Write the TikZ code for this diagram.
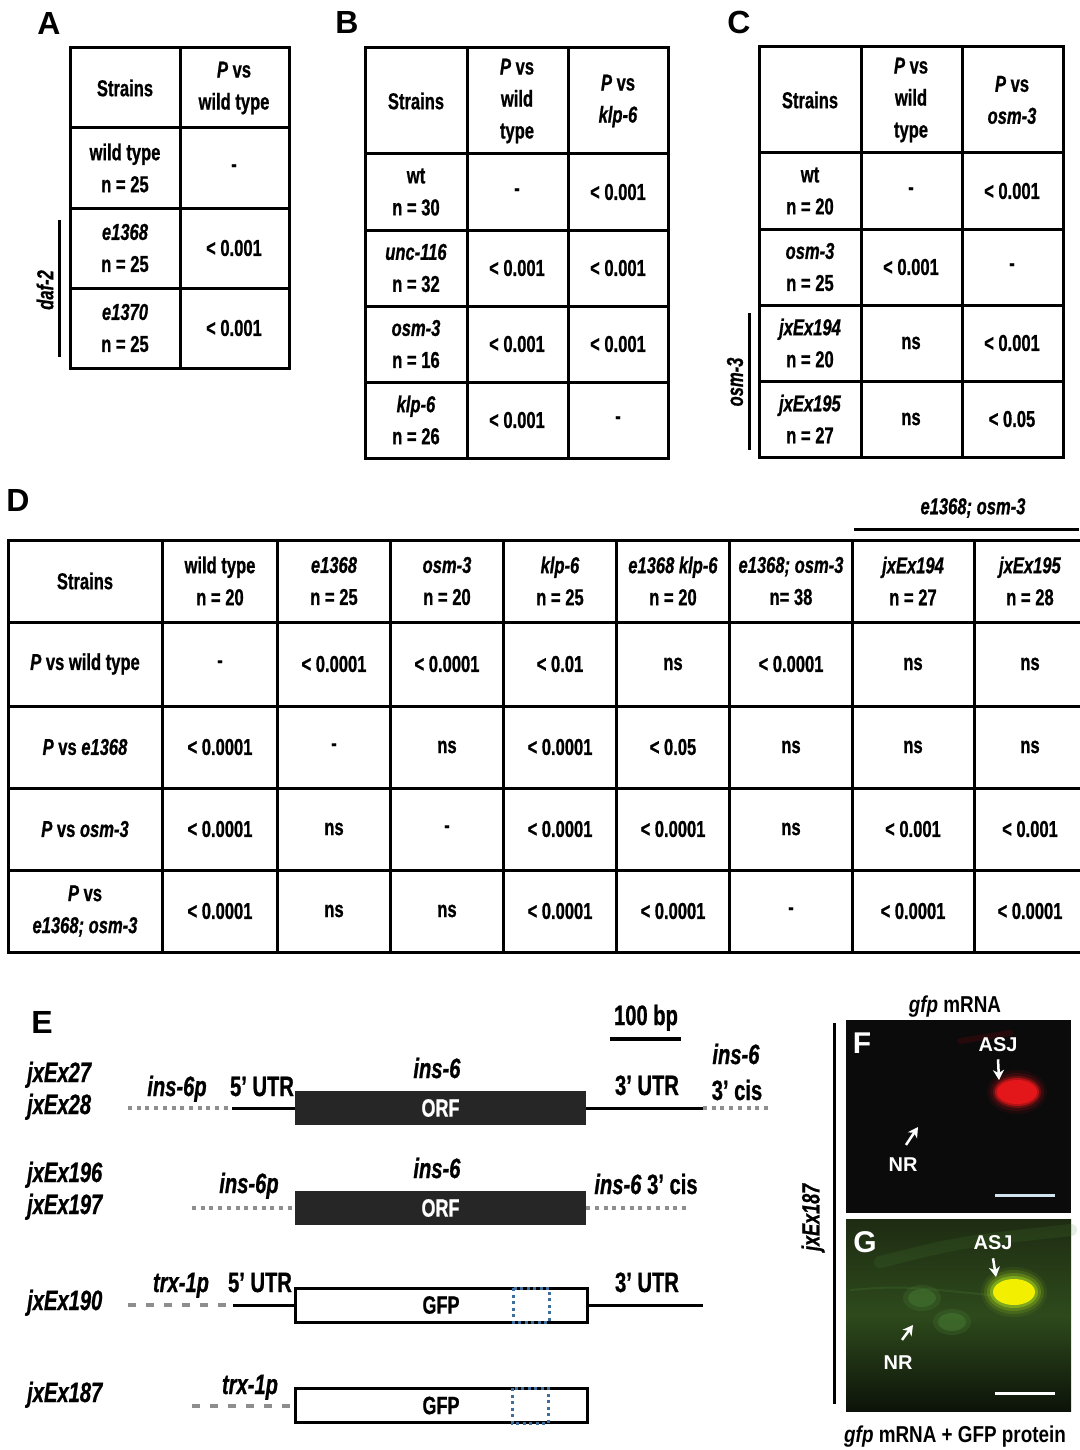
\documentclass[tikz,border=0pt]{standalone}
\usepackage{fontspec}
\setmainfont{Liberation Sans}[FakeStretch=0.72, FakeBold=0.8]
\newfontfamily\panelfont{Liberation Sans}
\newfontfamily\narrowfont{Liberation Sans}[FakeStretch=0.82]
\usetikzlibrary{arrows.meta,positioning}

\definecolor{orfgray}{HTML}{262626}
\definecolor{linegray}{HTML}{8E8E8E}
\definecolor{boxblue}{HTML}{3D6E9E}
\definecolor{fbg}{HTML}{0B0B0B}
\definecolor{asjred}{HTML}{E3161A}
\definecolor{gtop}{HTML}{1E2C12}
\definecolor{gmid}{HTML}{2E4A1C}
\definecolor{gbot}{HTML}{0C1309}
\definecolor{gfpyellow}{HTML}{F2F000}
\definecolor{halo}{HTML}{A8D81E}
\definecolor{nrgreen}{HTML}{4E8A3A}
\definecolor{barblue}{HTML}{D2E4EE}

\newcommand{\tabfont}{\fontsize{23}{32}\selectfont\bfseries}
\newcommand{\genefont}{\fontsize{28}{32}\selectfont\bfseries}
\newcommand{\boxfont}{\fontsize{25}{30}\selectfont\bfseries}
\newcommand{\tabrow}[3]{
	\foreach \xx/\txt [count=\k] in {#3}
		\node[cell] (#1\k) at (\xx,#2) {\txt};
	}

\begin{document}
\begin{tikzpicture}[x=1pt, y=-1pt,
	cell/.style={font=\tabfont, align=center, inner sep=0pt},
	tableline/.style={line width=3pt, line cap=rect},
	panel/.style={font=\panelfont\fontsize{32}{32}\selectfont\bfseries, inner sep=0pt},
	gene/.style={font=\genefont, inner sep=0pt, anchor=base},
	promoter/.style={line width=4pt, linegray, dash pattern=on 4pt off 4.7pt},
	trxline/.style={line width=4pt, linegray, dash pattern=on 8pt off 10pt},
	utr/.style={line width=3pt},
	orfbox/.style={fill=orfgray, text=white, font=\boxfont, minimum width=291pt, minimum height=34pt, inner sep=0pt},
	gfpbox/.style={draw, line width=3pt, font=\boxfont, minimum width=292pt, minimum height=34pt, inner sep=0pt},
	bluedot/.style={boxblue, line width=3pt, dash pattern=on 3pt off 3.5pt},
	title/.style={font=\narrowfont\fontsize{23}{28}\selectfont\bfseries, inner sep=0pt, anchor=base},
	micro/.style={font=\panelfont\fontsize{20}{24}\selectfont\bfseries, text=white, inner sep=0pt},
	microletter/.style={font=\panelfont\fontsize{30}{30}\selectfont\bfseries, text=white, inner sep=0pt},
	pointer/.style={white, line width=2.5pt, -{Stealth[length=10pt,width=11pt,inset=3pt]}},
]
	\fill[white] (0,0) rectangle (1079,1450);
	\useasboundingbox (0,0) rectangle (1079,1450);

	% panel letters
	\node[panel] (labA) at (49,23) {A};
	\node[panel] (labB) at (347,22) {B};
	\node[panel] (labC) at (739,22) {C};
	\node[panel] (labD) at (18,500) {D};
	\node[panel] (labE) at (42,1022) {E};

	% table A
	\draw[tableline] (70,48) rectangle (289,368);
	\draw[tableline] (180,48) -- (180,368);
	\foreach \yy in {128,208,288} \draw[tableline] (70,\yy) -- (289,\yy);
	\tabrow{a0}{88}{125/Strains, 234/{\textit{P} vs\\wild type}}
	\tabrow{a1}{168}{125/{wild type\\n = 25}, 234/-}
	\tabrow{a2}{248}{125/{\textit{e1368}\\n = 25}, 234/{< 0.001}}
	\tabrow{a3}{328}{125/{\textit{e1370}\\n = 25}, 234/{< 0.001}}
	\draw[utr] (59,220) -- (59,357);
	\node[cell, rotate=90] (daf) at (45,290) {\textit{daf-2}};

	% table B
	\draw[tableline] (365,48) rectangle (668,458);
	\foreach \xx in {467,568} \draw[tableline] (\xx,48) -- (\xx,458);
	\foreach \yy in {154,230,306,382} \draw[tableline] (365,\yy) -- (668,\yy);
	\tabrow{b0}{101}{416/Strains, 517/{\textit{P} vs\\wild\\type}, 618/{\textit{P} vs\\\textit{klp-6}}}
	\tabrow{b1}{192}{416/{wt\\n = 30}, 517/-, 618/{< 0.001}}
	\tabrow{b2}{268}{416/{\textit{unc-116}\\n = 32}, 517/{< 0.001}, 618/{< 0.001}}
	\tabrow{b3}{344}{416/{\textit{osm-3}\\n = 16}, 517/{< 0.001}, 618/{< 0.001}}
	\tabrow{b4}{420}{416/{\textit{klp-6}\\n = 26}, 517/{< 0.001}, 618/-}

	% table C
	\draw[tableline] (759,47) rectangle (1063,457);
	\foreach \xx in {861,962} \draw[tableline] (\xx,47) -- (\xx,457);
	\foreach \yy in {153,229,305,381} \draw[tableline] (759,\yy) -- (1063,\yy);
	\tabrow{c0}{100}{810/Strains, 911/{\textit{P} vs\\wild\\type}, 1012/{\textit{P} vs\\\textit{osm-3}}}
	\tabrow{c1}{191}{810/{wt\\n = 20}, 911/-, 1012/{< 0.001}}
	\tabrow{c2}{267}{810/{\textit{osm-3}\\n = 25}, 911/{< 0.001}, 1012/-}
	\tabrow{c3}{343}{810/{\textit{jxEx194}\\n = 20}, 911/ns, 1012/{< 0.001}}
	\tabrow{c4}{419}{810/{\textit{jxEx195}\\n = 27}, 911/ns, 1012/{< 0.05}}
	\draw[utr] (749,313) -- (749,450);
	\node[cell, rotate=90] (osm) at (735,382) {\textit{osm-3}};

	% table D
	\foreach \yy in {540,622,706,788,870,952} \draw[tableline] (8,\yy) -- (1079,\yy);
	\foreach \xx in {8,162,277,390,503,616,729,852,974} \draw[tableline] (\xx,540) -- (\xx,952);
	\tabrow{d0}{581}{85/Strains, 220/{wild type\\n = 20}, 334/{\textit{e1368}\\n = 25}, 447/{\textit{osm-3}\\n = 20}, 560/{\textit{klp-6}\\n = 25}, 673/{\textit{e1368 klp-6}\\n = 20}, 791/{\textit{e1368; osm-3}\\n= 38}, 913/{\textit{jxEx194}\\n = 27}, 1030/{\textit{jxEx195}\\n = 28}}
	\tabrow{d1}{664}{85/{\textit{P} vs wild type}, 220/-, 334/{< 0.0001}, 447/{< 0.0001}, 560/{< 0.01}, 673/ns, 791/{< 0.0001}, 913/ns, 1030/ns}
	\tabrow{d2}{747}{85/{\textit{P} vs \textit{e1368}}, 220/{< 0.0001}, 334/-, 447/ns, 560/{< 0.0001}, 673/{< 0.05}, 791/ns, 913/ns, 1030/ns}
	\tabrow{d3}{829}{85/{\textit{P} vs \textit{osm-3}}, 220/{< 0.0001}, 334/ns, 447/-, 560/{< 0.0001}, 673/{< 0.0001}, 791/ns, 913/{< 0.001}, 1030/{< 0.001}}
	\tabrow{d4}{911}{85/{\textit{P} vs\\\textit{e1368; osm-3}}, 220/{< 0.0001}, 334/ns, 447/ns, 560/{< 0.0001}, 673/{< 0.0001}, 791/-, 913/{< 0.0001}, 1030/{< 0.0001}}
	\node[cell] (dgrp) at (973,508) {\textit{e1368; osm-3}};
	\draw[utr] (854,529) -- (1079,529);

	% constructs
	\node[gene, anchor=base west] (ex27) at (27,1082) {\textit{jxEx27}};
	\node[gene, anchor=base west] (ex28) at (27,1114) {\textit{jxEx28}};
	\node[gene, anchor=base west] (ex196) at (27,1182) {\textit{jxEx196}};
	\node[gene, anchor=base west] (ex197) at (27,1214) {\textit{jxEx197}};
	\node[gene, anchor=base west] (ex190) at (27,1310) {\textit{jxEx190}};
	\node[gene, anchor=base west] (ex187) at (27,1402) {\textit{jxEx187}};

	\node[gene] (bp) at (646,1025) {100 bp};
	\draw[line width=3.5pt] (610,1039) -- (681,1039);

	% ins-6 genomic
	\node[orfbox] (orf1) at (440.5,1108) {ORF};
	\coordinate (p1) at (128,1108);
	\coordinate (u1) at (232,1108);
	\coordinate (u3a) at (703,1108);
	\coordinate (c1) at (770,1108);
	\draw[promoter] (p1) -- (u1);
	\draw[utr] (u1) -- (orf1.west);
	\draw[utr] (orf1.east) -- (u3a);
	\draw[promoter] (u3a) -- (c1);
	\node[gene] (insp1) at (177,1096) {\textit{ins-6p}};
	\node[gene] (utr5a) at (262,1096) {5’ UTR};
	\node[gene] (ins1) at (437,1078) {\textit{ins-6}};
	\node[gene] (utr3a) at (647,1095) {3’ UTR};
	\node[gene] (cisa) at (736,1064) {\textit{ins-6}};
	\node[gene] (cisb) at (737,1100) {3’ cis};

	% ins-6 no UTR
	\node[orfbox] (orf2) at (440.5,1208) {ORF};
	\coordinate (p2) at (192,1208);
	\coordinate (c2) at (688,1208);
	\draw[promoter] (p2) -- (orf2.west);
	\draw[promoter] (orf2.east) -- (c2);
	\node[gene] (insp2) at (249,1193) {\textit{ins-6p}};
	\node[gene] (ins2) at (437,1178) {\textit{ins-6}};
	\node[gene] (cis2) at (646,1194) {\textit{ins-6} 3’ cis};

	% gfp with UTR
	\node[gfpbox] (gfp1) at (441,1305) {GFP};
	\coordinate (t1) at (128,1305);
	\coordinate (t1e) at (227,1305);
	\coordinate (u5b) at (233,1305);
	\coordinate (u3b) at (703,1305);
	\draw[trxline] (t1) -- (t1e);
	\draw[utr] (u5b) -- (gfp1.west);
	\draw[utr] (gfp1.east) -- (u3b);
	\draw[bluedot] (513,1288) rectangle (549,1322);
	\node[gene] (trx1) at (181,1292) {\textit{trx-1p}};
	\node[gene] (utr5b) at (260,1292) {5’ UTR};
	\node[gene] (utr3b) at (647,1292) {3’ UTR};

	% gfp alone
	\node[gfpbox] (gfp2) at (441,1405.5) {GFP};
	\coordinate (t2) at (192,1406);
	\coordinate (t2e) at (290,1406);
	\draw[trxline] (t2) -- (t2e);
	\draw[bluedot] (512,1388) rectangle (548,1423);
	\node[gene] (trx2) at (250,1394) {\textit{trx-1p}};

	% micrographs
	\node[title] (fTitle) at (955,1012) {\textit{gfp} mRNA};
	\node[title] (gTitle) at (955,1442) {\textit{gfp} mRNA + GFP protein};
	\draw[utr] (834,1023) -- (834,1404);
	\node[cell, font=\fontsize{25}{30}\selectfont\bfseries, rotate=90] (ex187v) at (813,1217) {\textit{jxEx187}};

	% F
	\fill[fbg] (846,1020) rectangle (1071,1213);
	\draw[asjred!45!black, opacity=0.3, line width=6pt, line cap=round] (960,1041) -- (1010,1033);
	\foreach \rr/\op in {30/0.08, 27/0.15, 24/0.3, 22/0.6}
		\fill[asjred, opacity=\op] (1017,1092) ellipse [x radius=\rr, y radius=\rr-8];
	\fill[asjred] (1017,1092) ellipse [x radius=20, y radius=12];
	\draw[barblue, line width=3pt] (995,1195) -- (1055,1195);
	\node[microletter] (labF) at (862,1043) {F};
	\node[micro] (asjF) at (998,1045) {ASJ};
	\node[micro] (nrF) at (903,1165) {NR};
	\coordinate (asjFtip) at (999,1080);
	\coordinate (nrFtip) at (918,1127);
	\draw[pointer] ([yshift=-7pt]asjF.south) -- (asjFtip);
	\draw[pointer] ([shift={(3pt,13pt)}]nrF.north) -- (nrFtip);

	% G
	\shade[top color=gtop, bottom color=gbot, middle color=gmid] (846,1219) rectangle (1071,1411);
	\draw[nrgreen, opacity=0.15, line width=12pt, line cap=round] (880,1262) .. controls (960,1242) .. (1071,1230);
	\draw[nrgreen, opacity=0.2, line width=2pt] (850,1290) .. controls (900,1286) .. (1000,1296);
	\foreach \cx/\cy in {922/1298, 952/1322} {
		\fill[nrgreen, opacity=0.2] (\cx,\cy) ellipse [x radius=19, y radius=13];
		\fill[nrgreen, opacity=0.35] (\cx,\cy) ellipse [x radius=14, y radius=9];
	}
	\foreach \rr/\op in {33/0.08, 30/0.15, 27/0.25, 24/0.45}
		\fill[halo, opacity=\op] (1014,1292) ellipse [x radius=\rr, y radius=\rr-8];
	\fill[gfpyellow] (1014,1292) ellipse [x radius=21, y radius=13];
	\draw[white, line width=3pt] (995,1393) -- (1055,1393);
	\node[microletter] (labG) at (865,1242) {G};
	\node[micro] (asjG) at (993,1243) {ASJ};
	\node[micro] (nrG) at (898,1363) {NR};
	\coordinate (asjGtip) at (996,1277);
	\coordinate (nrGtip) at (913,1325);
	\draw[pointer] ([yshift=-8pt]asjG.south) -- (asjGtip);
	\draw[pointer] ([shift={(4pt,16pt)}]nrG.north) -- (nrGtip);

\end{tikzpicture}
\end{document}
